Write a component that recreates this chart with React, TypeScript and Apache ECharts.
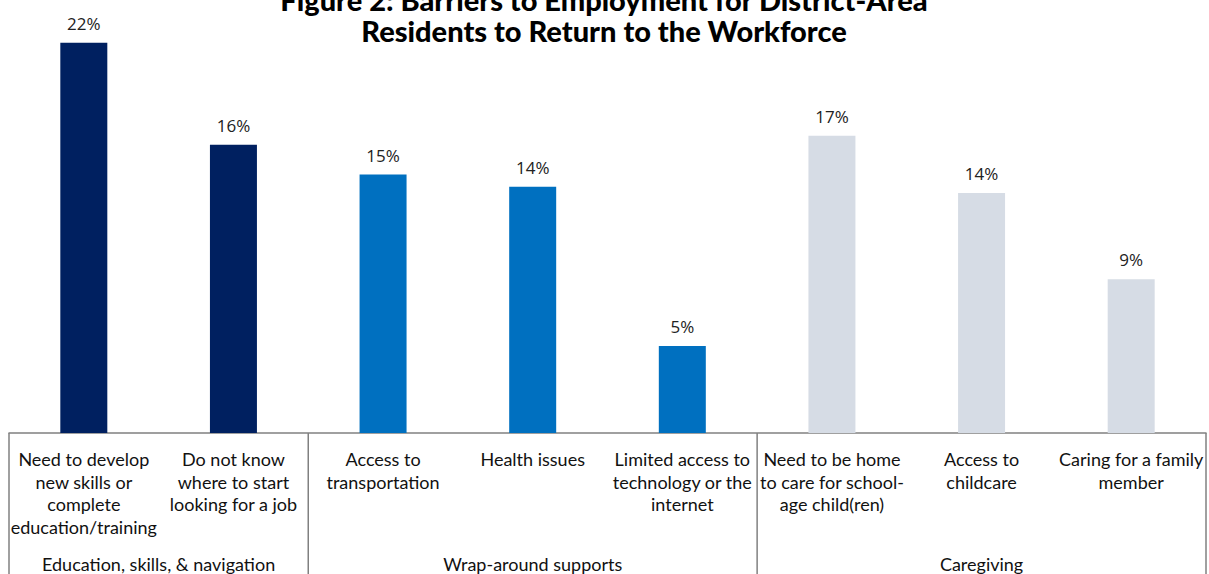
import React, { useEffect, useRef } from "react";
import * as echarts from "echarts";

const categories = [
  "Need to develop\nnew skills or\ncomplete\neducation/training",
  "Do not know\nwhere to start\nlooking for a job",
  "Access to\ntransportation",
  "Health issues",
  "Limited access to\ntechnology or the\ninternet",
  "Need to be home\nto care for school-\nage child(ren)",
  "Access to\nchildcare",
  "Caring for a family\nmember",
];
const values = [22.2, 16.4, 14.7, 14.0, 4.95, 16.9, 13.65, 8.75];
const barColors = ["#002060", "#002060", "#0070C0", "#0070C0", "#0070C0", "#D6DCE5", "#D6DCE5", "#D6DCE5"];
const groupNames = ["Education, skills, & navigation", "Wrap-around supports", "Caregiving"];
const groupStart = [0, 2, 5];
const groupEnd = [1, 4, 7];
const titleLines = ["Figure 2: Barriers to Employment for District-Area", "Residents to Return to the Workforce"];

export default function App() {
  const ref = useRef<HTMLDivElement>(null);
  useEffect(() => {
    if (!ref.current) return;
    const chart = echarts.init(ref.current, null, { renderer: "svg" });
    const labelFont = "Lato, 'Open Sans', sans-serif";
    chart.setOption({
      animation: false,
      grid: { left: 9, right: 3, top: 11, bottom: 141 },
      xAxis: {
        type: "category",
        data: categories,
        axisLine: { show: true, lineStyle: { color: "#808080", width: 1.5 } },
        axisTick: { show: false },
        axisLabel: {
          interval: 0,
          margin: 15,
          fontSize: 18,
          lineHeight: 22.5,
          color: "#111",
          fontFamily: labelFont,
          align: "center",
        },
      },
      yAxis: {
        type: "value",
        min: 0,
        max: 24,
        show: false,
        splitLine: { show: false },
      },
      series: [
        {
          type: "bar",
          barWidth: 47,
          data: values.map((v, i) => ({ value: v, itemStyle: { color: barColors[i] } })),
          label: {
            show: true,
            position: "top",
            distance: 11,
            formatter: (p: any) => Math.round(p.value) + "%",
            fontSize: 17,
            color: "#222",
            fontFamily: "'Open Sans', sans-serif",
          },
        },
      ],
    });

    const xs = categories.map((_, i) => chart.convertToPixel({ xAxisIndex: 0 }, i) as number);
    const bw = xs[1] - xs[0];
    const baseY = chart.convertToPixel({ yAxisIndex: 0 }, 0) as number;
    const H = 574;
    const bounds = [xs[0] - bw / 2, ...groupEnd.map((e) => xs[e] + bw / 2)];
    const graphic: any[] = bounds.map((x) => ({
      type: "line",
      shape: { x1: x, y1: baseY, x2: x, y2: H },
      style: { stroke: "#808080", lineWidth: 1.5 },
    }));
    groupNames.forEach((g, k) => {
      const l = xs[groupStart[k]] - bw / 2;
      const r = xs[groupEnd[k]] + bw / 2;
      graphic.push({
        type: "text",
        style: {
          text: g,
          x: (l + r) / 2,
          y: 564,
          align: "center",
          verticalAlign: "middle",
          fontSize: 18,
          fontFamily: labelFont,
          fill: "#111",
        },
      });
    });
    titleLines.forEach((t, k) => {
      graphic.push({
        type: "text",
        style: {
          text: t,
          x: 604,
          y: -1 + k * 31,
          align: "center",
          verticalAlign: "middle",
          fontSize: 29,
          fontWeight: 900,
          fontFamily: labelFont,
          fill: "#000",
        },
      });
    });
    chart.setOption({ graphic });
    return () => chart.dispose();
  }, []);
  return (
    <div
      ref={ref}
      style={{ position: "fixed", left: 0, top: 0, width: 1209, height: 574, background: "#fff" }}
    />
  );
}
